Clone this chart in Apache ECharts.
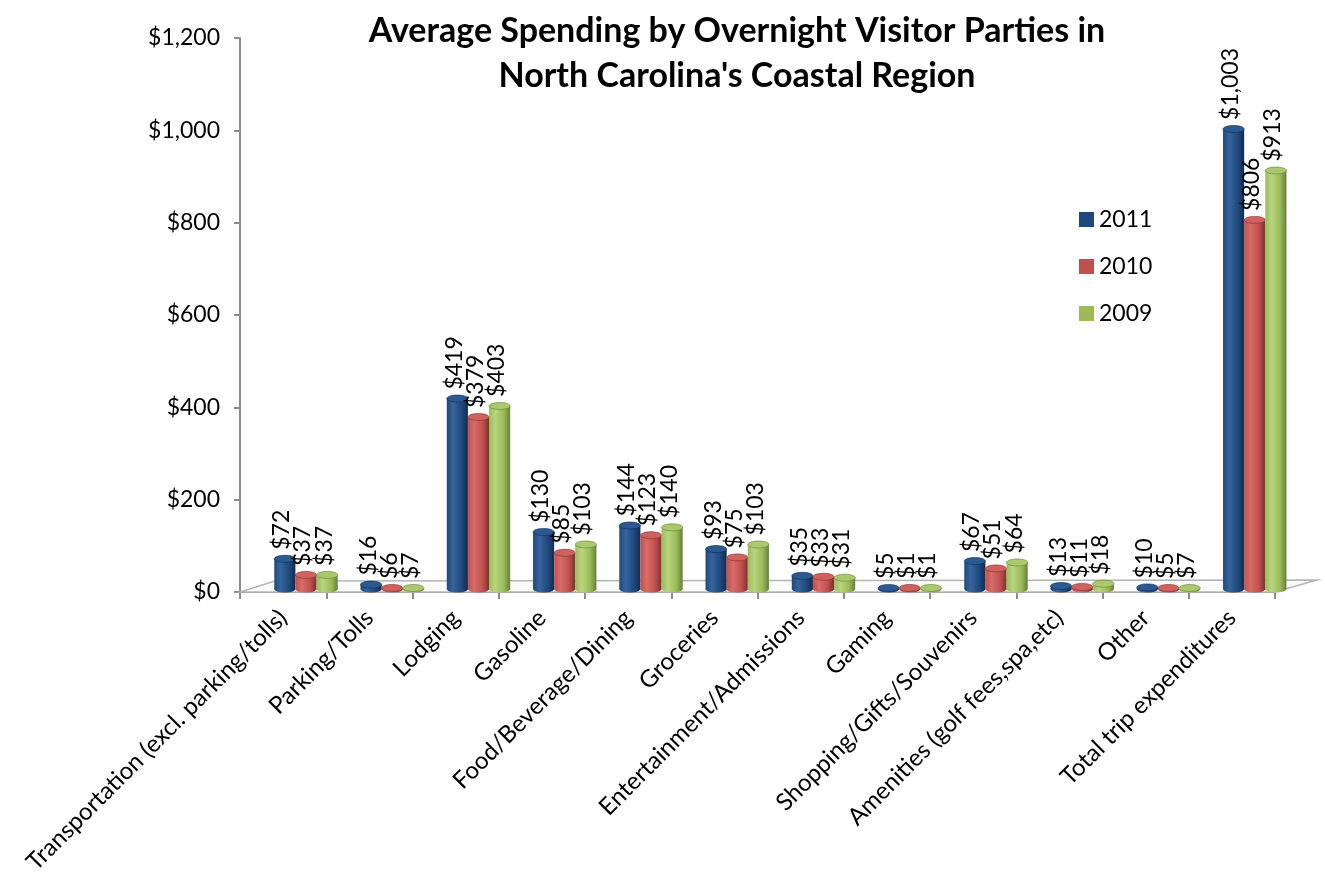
<!DOCTYPE html>
<html>
<head>
<meta charset="utf-8">
<script src="https://cdn.jsdelivr.net/npm/echarts@6/dist/echarts.min.js"></script>
<style>
  html, body { margin: 0; padding: 0; background: #fff; }
  #chart { width: 1325px; height: 890px; }
</style>
</head>
<body>
<div id="chart"></div>
<script>
// Spending categories along the horizontal axis
const categories = [
  'Transportation (excl. parking/tolls)',
  'Parking/Tolls',
  'Lodging',
  'Gasoline',
  'Food/Beverage/Dining',
  'Groceries',
  'Entertainment/Admissions',
  'Gaming',
  'Shopping/Gifts/Souvenirs',
  'Amenities (golf fees,spa,etc)',
  'Other',
  'Total trip expenditures'
];

// Average spending per visitor party, in dollars
const spend2011 = [72, 16, 419, 130, 144, 93, 35, 5, 67, 13, 10, 1003];
const spend2010 = [37, 6, 379, 85, 123, 75, 33, 1, 51, 11, 5, 806];
const spend2009 = [37, 7, 403, 103, 140, 103, 31, 1, 64, 18, 7, 913];

const seriesNames = ['2011', '2010', '2009'];
const seriesValues = [spend2011, spend2010, spend2009];

// Value axis ticks
const yMin = 0, yMax = 1200, yStep = 200;

const palette = [
  { base: '#1F497D', light: '#36649c', dark: '#122c4e', cap: '#2b5a93' },
  { base: '#C0504D', light: '#d86c69', dark: '#7e2f2d', cap: '#cf625f' },
  { base: '#9BBB59', light: '#b8d57f', dark: '#65803a', cap: '#aac86c' }
];

const FONT = 'Lato, "Liberation Sans", sans-serif';

function money(v) {
  return '$' + Number(v).toLocaleString('en-US');
}

const chart = echarts.init(document.getElementById('chart'), null, { renderer: 'canvas' });

// Cylinder-style column: gradient body, rounded base and elliptical cap,
// with the value written vertically above it.
function makeRenderItem(k) {
  const col = palette[k];
  return function (params, api) {
    const ci = api.value(0);
    const v = api.value(1);
    const base = api.coord([ci, 0]);
    const top = api.coord([ci, v]);
    const catW = api.size([1, 0])[0];
    const bw = catW * 0.245;
    const groupCenter = base[0] + catW * 0.265;
    const x = groupCenter - 1.5 * bw + k * bw;
    const yBottom = base[1] - 3;
    const yTop = Math.min(top[1], yBottom - 1);
    const ry = 3.5;
    const grad = new echarts.graphic.LinearGradient(0, 0, 1, 0, [
      { offset: 0, color: col.base },
      { offset: 0.3, color: col.light },
      { offset: 0.7, color: col.base },
      { offset: 1, color: col.dark }
    ]);
    return {
      type: 'group',
      children: [
        {
          type: 'ellipse',
          shape: { cx: x + bw / 2, cy: yBottom, rx: bw / 2, ry: ry },
          style: { fill: grad }
        },
        {
          type: 'rect',
          shape: { x: x, y: yTop, width: bw, height: yBottom - yTop },
          style: { fill: grad }
        },
        {
          type: 'ellipse',
          shape: { cx: x + bw / 2, cy: yTop, rx: bw / 2, ry: ry },
          style: { fill: col.cap, stroke: col.dark, lineWidth: 0.6 }
        },
        {
          type: 'text',
          x: x + bw / 2 - 3,
          y: yTop - 9,
          rotation: Math.PI / 2,
          style: {
            text: money(v),
            fill: '#000',
            font: '23px ' + FONT,
            textAlign: 'left',
            textVerticalAlign: 'middle'
          },
          z2: 10
        }
      ]
    };
  };
}

const series = seriesNames.map(function (name, k) {
  return {
    name: name,
    type: 'custom',
    renderItem: makeRenderItem(k),
    encode: { x: 0, y: 1 },
    itemStyle: { color: palette[k].base },
    clip: false,
    z: 5,
    data: seriesValues[k].map(function (v, i) { return [i, v]; })
  };
});

chart.setOption({
  animation: false,
  backgroundColor: '#fff',
  textStyle: { fontFamily: FONT },
  title: {
    text: "Average Spending by Overnight Visitor Parties in\nNorth Carolina's Coastal Region",
    left: 732,
    top: 4,
    textAlign: 'center',
    textStyle: {
      fontFamily: FONT,
      fontSize: 34,
      fontWeight: 'bold',
      lineHeight: 45,
      color: '#000'
    }
  },
  legend: {
    orient: 'vertical',
    left: 1074,
    top: 203,
    itemWidth: 15,
    itemHeight: 15,
    itemGap: 24,
    icon: 'rect',
    data: seriesNames,
    textStyle: { fontFamily: FONT, fontSize: 23, color: '#000' }
  },
  grid: {
    left: 240,
    right: 50,
    top: 38,
    bottom: 298,
    containLabel: false
  },
  xAxis: {
    type: 'category',
    data: categories,
    boundaryGap: true,
    axisLine: { lineStyle: { color: '#8c8c8c', width: 2 } },
    axisTick: { show: true, length: 7, lineStyle: { color: '#8c8c8c', width: 2 } },
    axisLabel: {
      interval: 0,
      rotate: 45,
      margin: 22,
      fontSize: 24,
      color: '#000',
      fontFamily: FONT
    },
    splitLine: { show: false }
  },
  yAxis: {
    type: 'value',
    min: yMin,
    max: yMax,
    interval: yStep,
    axisLine: { show: true, lineStyle: { color: '#8c8c8c', width: 2 } },
    axisTick: { show: true, length: 6, lineStyle: { color: '#8c8c8c', width: 2 } },
    axisLabel: {
      formatter: money,
      fontSize: 23,
      color: '#000',
      margin: 20,
      fontFamily: FONT
    },
    splitLine: { show: false }
  },
  series: series
});

// Floor of the plot: a shallow receding plane behind the category axis.
(function drawFloor() {
  const left = chart.convertToPixel({ gridIndex: 0 }, [0, 0]);
  const catW = chart.convertToPixel({ gridIndex: 0 }, [1, 0])[0] - left[0];
  const x0 = left[0] - catW / 2;
  const x1 = x0 + catW * categories.length;
  const y0 = left[1];
  const dx = 42, dy = 12;
  chart.setOption({
    graphic: [{
      type: 'polygon',
      shape: { points: [[x0, y0], [x1, y0], [x1 + dx, y0 - dy], [x0 + dx * 0.83, y0 - dy + 1]] },
      style: { fill: '#fbfbfb', stroke: '#b5b5b5', lineWidth: 1.5 },
      z: 1,
      silent: true
    }]
  });
})();
</script>
</body>
</html>
